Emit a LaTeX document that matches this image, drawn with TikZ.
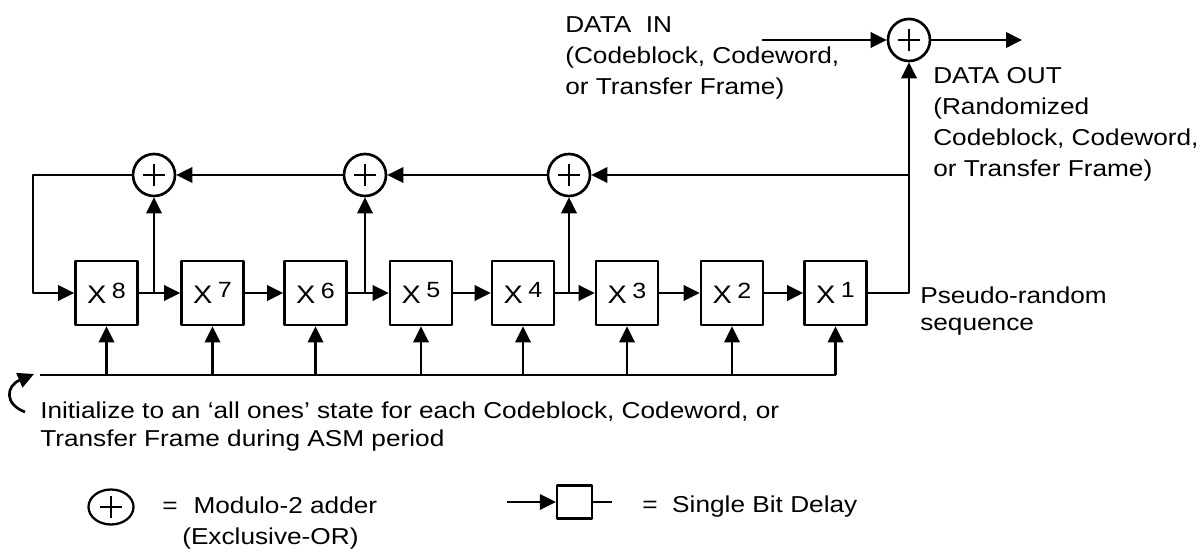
\documentclass[tikz,border=0pt]{standalone}
\usepackage{fontspec}
\setmainfont{Liberation Sans}[FakeStretch=1.14]
\usetikzlibrary{arrows.meta,shapes.geometric}
\tikzset{
  wire/.style={line width=2pt},
  arr/.style={line width=2pt, -{Triangle[length=12pt,width=11.5pt]}},
  plus/.style={path picture={\draw[line width=1.7pt]
    ([xshift=-8.5pt]path picture bounding box.center) -- ([xshift=8.5pt]path picture bounding box.center)
    ([yshift=-8.5pt]path picture bounding box.center) -- ([yshift=8.5pt]path picture bounding box.center);}},
  dly/.style={draw, line width=2pt, minimum width=46.5pt, minimum height=48pt, inner sep=0pt},
  xor/.style={draw, circle, line width=2pt, minimum size=31.5pt, inner sep=0pt, plus},
  lbl/.style={anchor=base west, align=left, inner sep=0pt, font=\fontsize{17.25pt}{23.25pt}\selectfont}
}
\newcommand{\xpow}[1]{\fontsize{19pt}{19pt}\selectfont X\hspace{4pt}\raisebox{4pt}{\fontsize{16.5pt}{16.5pt}\selectfont #1}}
\begin{document}
\begin{tikzpicture}[x=0.75pt, y=-0.75pt, line join=round]
\useasboundingbox (0,0) rectangle (1202,552);
\foreach \n/\x in {8/106.5,7/212.5,6/315.5,5/421,4/523,3/627,2/732,1/835.5}
  \node[dly] (x\n) at (\x,293) {\xpow{\n}};
\node[xor] (a1) at (154,175) {};
\node[xor] (a2) at (365,175) {};
\node[xor] (a3) at (569,175) {};
\node[xor] (aout) at (909,40) {};
\coordinate (j87) at (154,293);
\coordinate (j65) at (365,293);
\coordinate (j43) at (569,293);
\coordinate (tap) at (909,293);
\coordinate (fb) at (909,175);
\coordinate (c1) at (33,175);
\coordinate (c2) at (33,293);
\coordinate (din) at (762,40);
\coordinate (dout) at (1022,40);
\coordinate (busl) at (40,375);
\coordinate (busr) at (835.5,375);
\coordinate (curl) at (25,412);
\coordinate (curltip) at (34,374);

\draw[arr] (a1) -- (c1) -- (c2) -- (x8);
\foreach \m/\n in {8/7,7/6,6/5,5/4,4/3,3/2,2/1}
  \draw[arr] (x\m) -- (x\n);
\draw[arr] (j87) -- (a1);
\draw[arr] (j65) -- (a2);
\draw[arr] (j43) -- (a3);
\draw[arr] (x1) -- (tap) -- (aout);
\draw[arr] (fb) -- (a3);
\draw[arr] (a3) -- (a2);
\draw[arr] (a2) -- (a1);
\draw[arr] (din) -- (aout);
\draw[arr] (aout) -- (dout);
\draw[wire] (busl) -- (busr);
\foreach \n in {1,...,8}
  \draw[arr] (busl -| x\n) -- (x\n);
\draw[arr] (curl) .. controls (4,404) and (6,386) .. (curltip);

\node[lbl] (din-lbl) at (565,95) {DATA\ \ IN\\(Codeblock, Codeword,\\or Transfer Frame)};
\node[lbl] (dout-lbl) at (933,177) {DATA OUT\\(Randomized\\Codeblock, Codeword,\\or Transfer Frame)};
\node[lbl, font=\fontsize{17.25pt}{20.25pt}\selectfont] (prs-lbl) at (920,330) {Pseudo-random\\sequence};
\node[lbl, font=\fontsize{17.25pt}{21pt}\selectfont] (init-lbl) at (40,446) {Initialize to an ‘all ones’ state for each Codeblock, Codeword, or\\Transfer Frame during ASM period};

\node[draw, ellipse, line width=1.7pt, minimum width=33.75pt, minimum height=26.25pt, inner sep=0pt, plus] (key-xor) at (111,507) {};
\node[lbl] (key-xor-lbl) at (162,544) {=\hspace{12pt}Modulo-2 adder\\\hspace*{15pt}(Exclusive-OR)};
\node[dly, line width=1.7pt, minimum width=26.25pt, minimum height=24.75pt] (key-dly) at (574.5,502) {};
\coordinate (key-in) at (507,502);
\coordinate (key-out) at (612,502);
\draw[arr, line width=1.7pt] (key-in) -- (key-dly);
\draw[wire, line width=1.7pt] (key-dly) -- (key-out);
\node[lbl] (key-dly-lbl) at (642,512) {=\hspace{11pt}Single Bit Delay};
\end{tikzpicture}
\end{document}
